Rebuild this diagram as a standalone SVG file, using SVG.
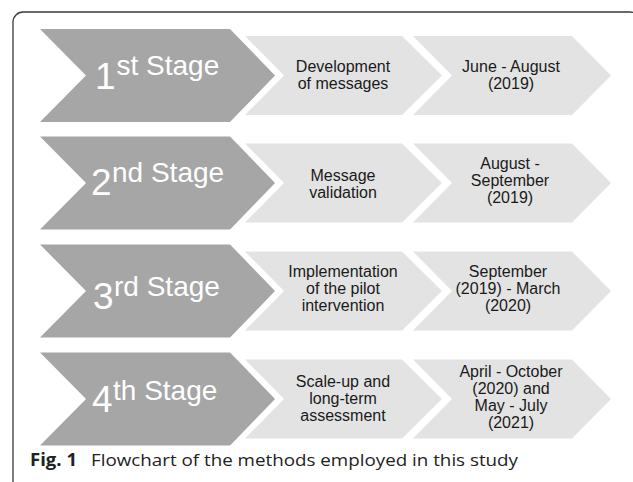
<svg xmlns="http://www.w3.org/2000/svg" width="633" height="482" viewBox="0 0 633 482">
  <style>
    .frame { fill: none; stroke: #3a3a3a; stroke-width: 1.3; }
    .stage { fill: #a6a6a6; }
    .step { fill: #e3e3e3; }
    .stg { font-family: "Liberation Sans", Arial, sans-serif; fill: #ffffff; }
    .num { font-size: 37px; }
    .suf { font-size: 28px; }
    .lbl { font-family: "Liberation Sans", Arial, sans-serif; font-size: 16px; fill: #1a1a1a; text-anchor: middle; }
    .cap { font-family: "Open Sans", "Noto Sans", sans-serif; font-size: 17px; fill: #222222; }
    .capb { font-weight: bold; }
  </style>
  <defs>
    <!-- chevron shapes, centred vertically on y=0 -->
    <polygon id="stageShape" points="40,-46.5 230,-46.5 275,0 230,46.5 40,46.5 86,0"/>
    <polygon id="stepA" points="245,-39.5 402,-39.5 442,0 402,39.5 245,39.5 284,0"/>
    <polygon id="stepB" points="413,-39.5 572,-39.5 611,0 572,39.5 413,39.5 452,0"/>
  </defs>

  <rect class="frame" x="13" y="12" width="627" height="520" rx="10" ry="10"/>

  <!-- Stage 1 -->
  <g id="stage1">
    <use href="#stageShape" class="stage" transform="translate(0,75.5)"/>
    <text class="stg"><tspan class="num" x="95" y="89">1</tspan><tspan class="suf" x="116.5" y="75">st Stage</tspan></text>
  </g>
  <g id="stage1-task">
    <use href="#stepA" class="step" transform="translate(0,75.5)"/>
    <text class="lbl"><tspan x="343" y="72">Development</tspan><tspan x="343" y="89">of messages</tspan></text>
  </g>
  <g id="stage1-period">
    <use href="#stepB" class="step" transform="translate(0,75.5)"/>
    <text class="lbl"><tspan x="511" y="72">June - August</tspan><tspan x="511" y="89">(2019)</tspan></text>
  </g>

  <!-- Stage 2 -->
  <g id="stage2">
    <use href="#stageShape" class="stage" transform="translate(0,183)"/>
    <text class="stg"><tspan class="num" x="91" y="195">2</tspan><tspan class="suf" x="112" y="182">nd Stage</tspan></text>
  </g>
  <g id="stage2-task">
    <use href="#stepA" class="step" transform="translate(0,183)"/>
    <text class="lbl"><tspan x="343" y="180.5">Message</tspan><tspan x="343" y="197.5">validation</tspan></text>
  </g>
  <g id="stage2-period">
    <use href="#stepB" class="step" transform="translate(0,183)"/>
    <text class="lbl"><tspan x="510" y="168.5">August -</tspan><tspan x="510" y="185.5">September</tspan><tspan x="510" y="202.5">(2019)</tspan></text>
  </g>

  <!-- Stage 3 -->
  <g id="stage3">
    <use href="#stageShape" class="stage" transform="translate(0,291)"/>
    <text class="stg"><tspan class="num" x="93" y="309">3</tspan><tspan class="suf" x="114" y="296">rd Stage</tspan></text>
  </g>
  <g id="stage3-task">
    <use href="#stepA" class="step" transform="translate(0,291)"/>
    <text class="lbl"><tspan x="343" y="277">Implementation</tspan><tspan x="343" y="294">of the pilot</tspan><tspan x="343" y="311">intervention</tspan></text>
  </g>
  <g id="stage3-period">
    <use href="#stepB" class="step" transform="translate(0,291)"/>
    <text class="lbl"><tspan x="508" y="277">September</tspan><tspan x="508" y="294">(2019) - March</tspan><tspan x="508" y="311">(2020)</tspan></text>
  </g>

  <!-- Stage 4 -->
  <g id="stage4">
    <use href="#stageShape" class="stage" transform="translate(0,399)"/>
    <text class="stg"><tspan class="num" x="92" y="412">4</tspan><tspan class="suf" x="113" y="400">th Stage</tspan></text>
  </g>
  <g id="stage4-task">
    <use href="#stepA" class="step" transform="translate(0,399)"/>
    <text class="lbl"><tspan x="343" y="386.5">Scale-up and</tspan><tspan x="343" y="403.5">long-term</tspan><tspan x="343" y="420.5">assessment</tspan></text>
  </g>
  <g id="stage4-period">
    <use href="#stepB" class="step" transform="translate(0,399)"/>
    <text class="lbl"><tspan x="511" y="376.5">April - October</tspan><tspan x="511" y="393.5">(2020) and</tspan><tspan x="511" y="410.5">May - July</tspan><tspan x="511" y="427.5">(2021)</tspan></text>
  </g>

  <!-- caption -->
  <g id="caption">
    <text class="cap capb" x="30" y="466" textLength="47" lengthAdjust="spacingAndGlyphs">Fig. 1</text>
    <text class="cap" x="91" y="466" textLength="427" lengthAdjust="spacingAndGlyphs">Flowchart of the methods employed in this study</text>
  </g>
</svg>
